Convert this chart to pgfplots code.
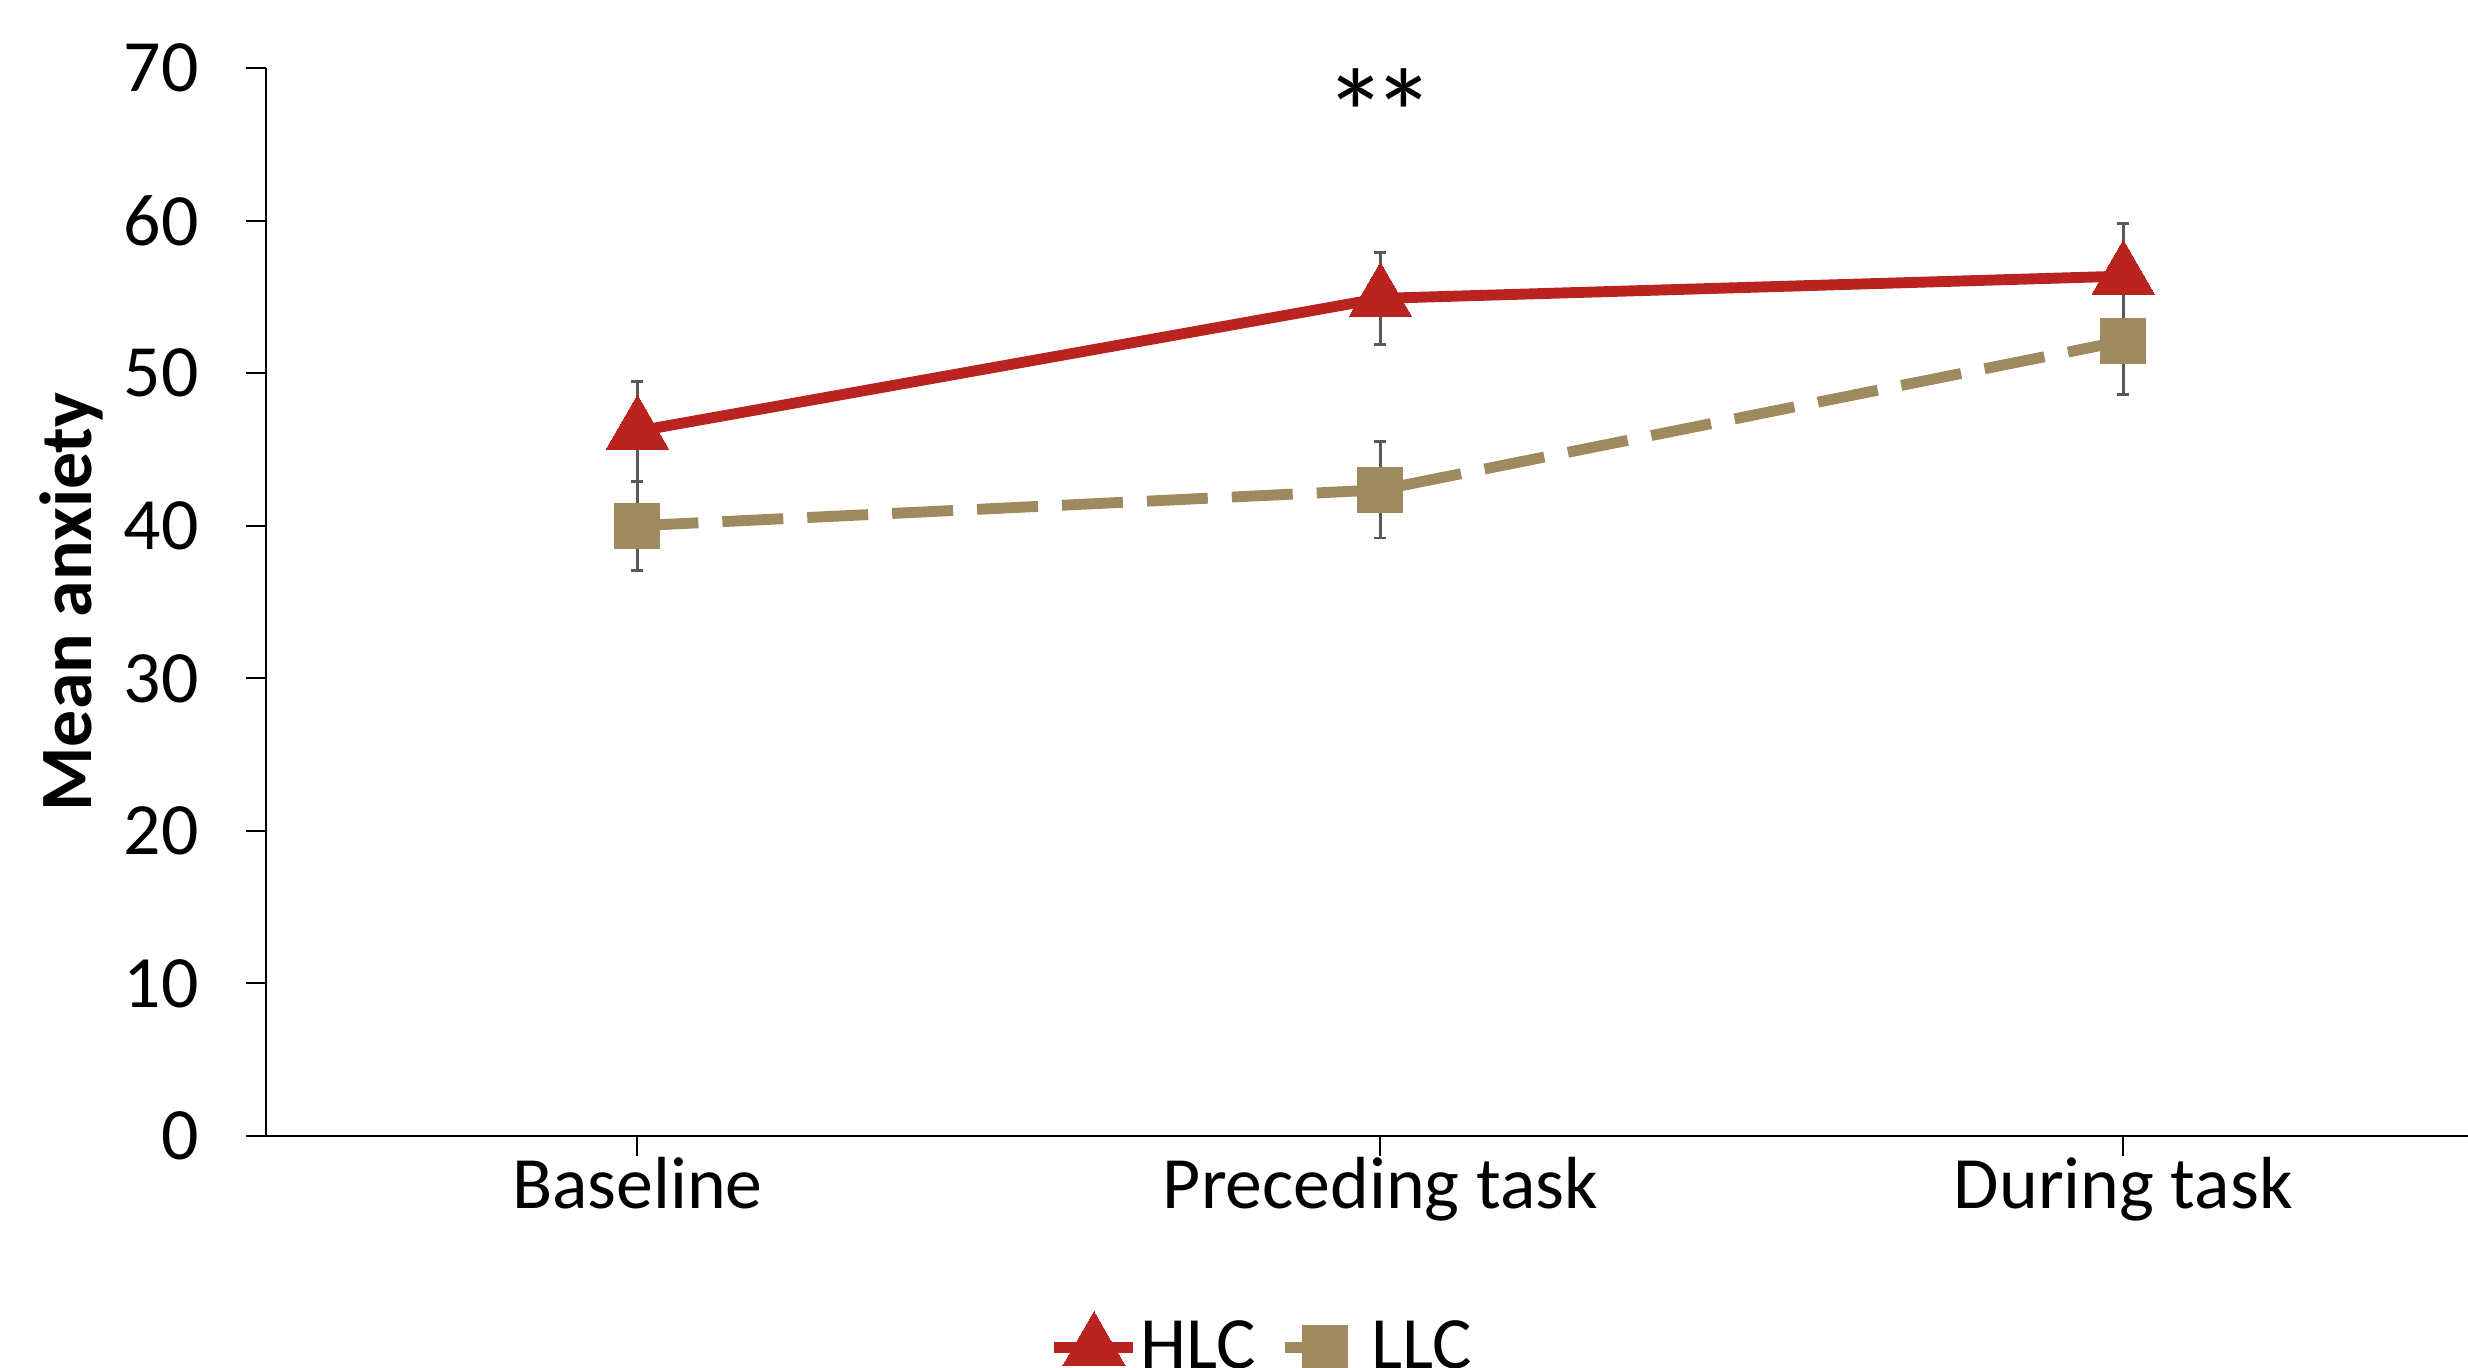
\documentclass[border=0pt]{standalone}
\usepackage{fontspec}
\setmainfont{Carlito}
\usepackage{pgfplots}
\pgfplotsset{compat=1.18}
\definecolor{hlc}{RGB}{185,35,32}
\definecolor{llc}{RGB}{159,138,95}
\definecolor{errgray}{RGB}{89,89,89}
\begin{document}
\begin{tikzpicture}
\begin{axis}[
  at={(2.66cm,2.31cm)}, anchor=south west,
  scale only axis, width=22.02cm, height=10.68cm,
  xmin=-0.5, xmax=2.464, ymin=0, ymax=70,
  axis x line*=bottom, axis y line*=left,
  axis line style={-, line width=0.55pt, black},
  xtick={0,1,2}, xticklabels={Baseline, Preceding task, During task},
  ytick={0,10,...,70},
  tick align=outside, major tick length=2mm,
  every tick/.style={line width=0.55pt, black},
  /pgf/number format/assume math mode=true,
  ticklabel style={font=\fontsize{21}{25}\selectfont},
  yticklabel style={xshift=-3.5mm},
  xticklabel style={yshift=1.1mm},
  ylabel={\textbf{Mean anxiety}},
  every axis y label/.style={at={(axis description cs:-0.0886,0.5)}, rotate=90, anchor=center, font=\fontsize{21}{25}\selectfont},
  clip=false,
  legend columns=2,
  legend style={draw=none, fill=none, at={(0.4519,-0.197)}, anchor=center,
    font=\fontsize{21}{25}\selectfont,
    nodes={inner xsep=0.5pt},
    /tikz/every even column/.append style={column sep=2.2mm}},
  legend image code/.code={\draw[mark repeat=2,mark phase=2,#1] plot coordinates {(0cm,0cm) (0.4cm,0cm) (0.79cm,0cm)};},
]
\addplot[color=hlc, line width=3.1pt, mark=triangle*, mark size=3.6mm,
  mark options={solid, fill=hlc, line width=0pt},
  error bars/.cd, y dir=both, y explicit,
  error bar style={line width=0.8pt, color=errgray, solid},
  error mark options={line width=0.8pt, color=errgray, mark size=0.6mm, rotate=90}]
  coordinates {
  (0,46.2) +- (0,3.28)
  (1,54.9) +- (0,3.01)
  (2,56.36) +- (0,3.46)
  };
\addlegendentry{HLC}
\addplot[color=llc, line width=3.1pt, dash pattern=on 6.1mm off 2.4mm, mark=square*, mark size=2.25mm,
  mark options={solid, fill=llc, line width=0pt},
  error bars/.cd, y dir=both, y explicit,
  error bar style={line width=0.8pt, color=errgray, solid},
  error mark options={line width=0.8pt, color=errgray, mark size=0.6mm, rotate=90}]
  coordinates {
  (0,40.0) +- (0,2.92)
  (1,42.35) +- (0,3.15)
  (2,52.11) +- (0,3.49)
  };
\addlegendentry{LLC}
\node[font=\fontsize{36}{40}\selectfont] at (axis cs:1,67.0) {*\kern-1.5mm*};
\end{axis}
\pgfresetboundingbox
\path[use as bounding box] (0,0) rectangle (24.68cm,13.67cm);
\end{tikzpicture}
\end{document}
